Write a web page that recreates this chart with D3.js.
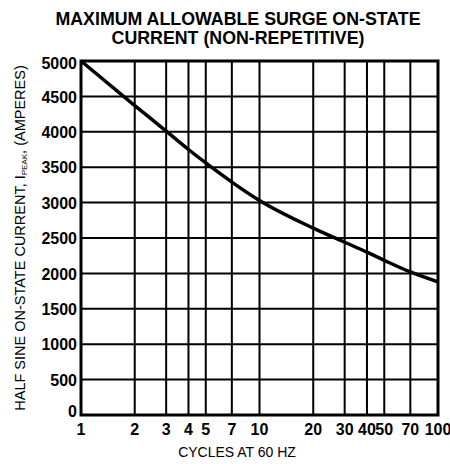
<!DOCTYPE html>
<html>
<head>
<meta charset="utf-8">
<script src="https://cdn.jsdelivr.net/npm/d3@7"></script>
<style>
  body { margin: 0; background: #fff; }
  text { font-family: "Liberation Sans", Arial, Helvetica, sans-serif; fill: #000; }
</style>
</head>
<body>
<div id="chart"></div>
<script>
// curve
var cycles = [1, 2, 3, 4, 5, 7, 10, 20, 30, 40, 50, 70, 100];
var current = [5000, 4370, 4010, 3750, 3560, 3290, 3030, 2640, 2440, 2300, 2185, 2020, 1880];

var xTicks = [1, 2, 3, 4, 5, 7, 10, 20, 30, 40, 50, 70, 100];
var xGrid = [2, 3, 4, 5, 7, 10, 20, 30, 40, 50, 70];
var yTicks = [0, 500, 1000, 1500, 2000, 2500, 3000, 3500, 4000, 4500, 5000];

var titleLines = ['MAXIMUM ALLOWABLE SURGE ON-STATE', 'CURRENT (NON-REPETITIVE)'];
var xTitle = 'CYCLES AT 60 HZ';

var width = 450, height = 464;

var svg = d3.select('#chart').append('svg')
    .attr('width', width)
    .attr('height', height);

var xScale = d3.scaleLog()
    .domain([1, 100])
    .range([81, 438]);

var yScale = d3.scaleLinear()
    .domain([0, 5000])
    .range([415, 61]);

// title
svg.selectAll('.title')
    .data(titleLines)
    .enter().append('text')
    .attr('class', 'title')
    .attr('x', 238)
    .attr('y', function (d, i) { return 25 + i * 19; })
    .attr('text-anchor', 'middle')
    .style('font-size', '17.8px')
    .style('font-weight', 'bold')
    .text(function (d) { return d; });

var grid = svg.append('g').attr('class', 'grid');

grid.selectAll('.hgrid')
    .data(yTicks)
    .enter().append('line')
    .attr('x1', xScale(1))
    .attr('x2', xScale(100))
    .attr('y1', function (d) { return yScale(d); })
    .attr('y2', function (d) { return yScale(d); })
    .style('stroke', '#000')
    .style('stroke-width', 2);

grid.selectAll('.vgrid')
    .data(xGrid)
    .enter().append('line')
    .attr('x1', function (d) { return xScale(d); })
    .attr('x2', function (d) { return xScale(d); })
    .attr('y1', yScale(5000))
    .attr('y2', yScale(0))
    .style('stroke', '#000')
    .style('stroke-width', 2);

// frame
svg.append('rect')
    .attr('x', xScale(1))
    .attr('y', yScale(5000))
    .attr('width', xScale(100) - xScale(1))
    .attr('height', yScale(0) - yScale(5000))
    .style('fill', 'none')
    .style('stroke', '#000')
    .style('stroke-width', 3);

// y tick labels
svg.selectAll('.ylab')
    .data(yTicks)
    .enter().append('text')
    .attr('x', 77)
    .attr('y', function (d) {
        var off = d === 0 ? -4 : (d === 5000 ? 2 : 0.5);
        return yScale(d) + off;
    })
    .attr('dy', '0.35em')
    .attr('text-anchor', 'end')
    .style('font-size', '16px')
    .style('font-weight', 'bold')
    .text(function (d) { return d; });

// x tick labels
svg.selectAll('.xlab')
    .data(xTicks)
    .enter().append('text')
    .attr('x', function (d) { return xScale(d); })
    .attr('y', 435)
    .attr('text-anchor', 'middle')
    .style('font-size', '16px')
    .style('font-weight', 'bold')
    .text(function (d) { return d; });

// axis titles
svg.append('text')
    .attr('x', 237)
    .attr('y', 457)
    .attr('text-anchor', 'middle')
    .style('font-size', '14px')
    .text(xTitle);

var yt = svg.append('text')
    .attr('transform', 'translate(25,238) rotate(-90)')
    .attr('text-anchor', 'middle')
    .style('font-size', '14.5px');
yt.append('tspan').text('HALF SINE ON-STATE CURRENT, I');
yt.append('tspan').attr('dy', 2).style('font-size', '8px').text('PEAK');
yt.append('tspan').attr('dy', -2).text(', (AMPERES)');

// curve
var line = d3.line()
    .x(function (d) { return xScale(d[0]); })
    .y(function (d) { return yScale(d[1]); })
    .curve(d3.curveMonotoneX);

svg.append('path')
    .datum(d3.zip(cycles, current))
    .attr('d', line)
    .style('fill', 'none')
    .style('stroke', '#000')
    .style('stroke-width', 3.5);
</script>
</body>
</html>
